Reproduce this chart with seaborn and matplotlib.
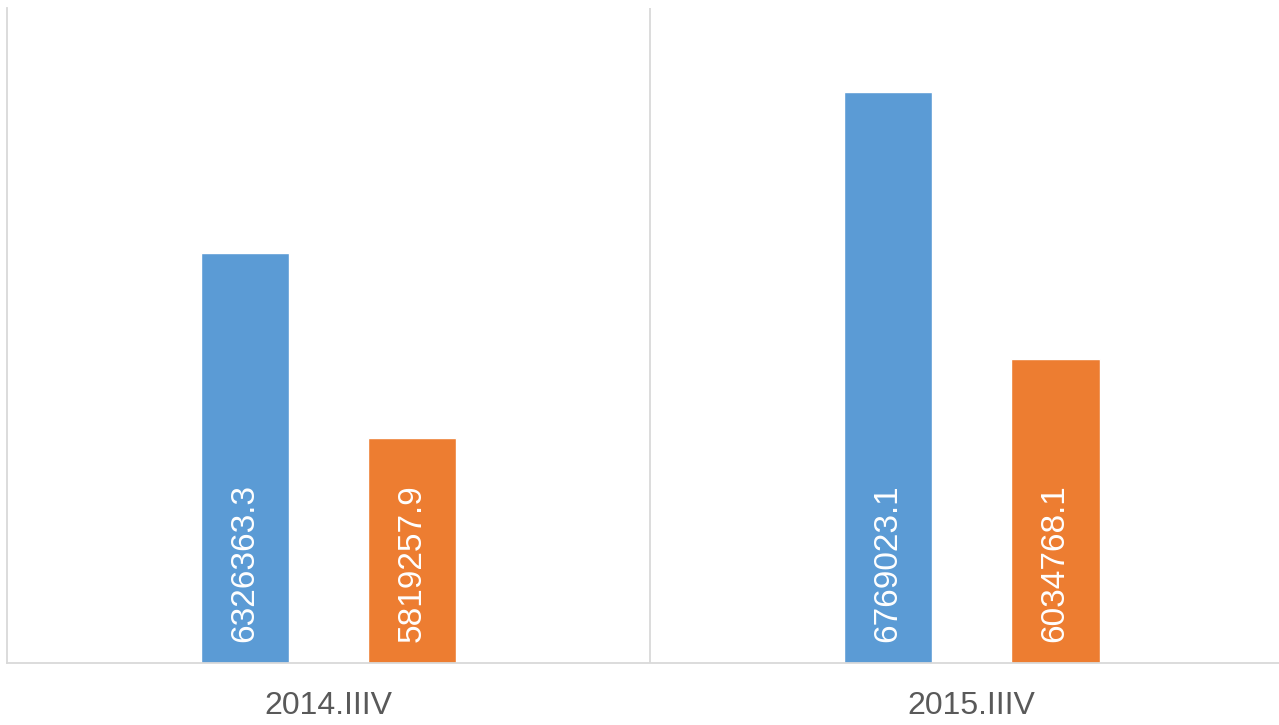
import pandas as pd
import matplotlib.pyplot as plt
import seaborn as sns

plt.switch_backend('Agg')

periods = ["2014.IIIV", "2015.IIIV"]
series_names = ["Series 1", "Series 2"]
series1 = [6326363.3, 6769023.1]
series2 = [5819257.9, 6034768.1]
colors = ["#5B9BD5", "#ED7D31"]

df = pd.DataFrame({
    "period": periods * 2,
    "series": [series_names[0]] * 2 + [series_names[1]] * 2,
    "value": series1 + series2,
})

sns.set_style("white")
plt.rcParams['font.family'] = ['Liberation Sans', 'DejaVu Sans']

fig = plt.figure(figsize=(12.79, 7.25), dpi=100)
ax = fig.add_axes([7 / 1279, 62 / 725, 1 - 7 / 1279, (663 - 8) / 725])

sns.barplot(data=df, x="period", y="value", hue="series", palette=colors,
            width=0.52, gap=0.47, legend=False, ax=ax, saturation=1)

ymin = 5.2e6
ax.set_ylim(ymin, 7.0e6)
ax.set_xlim(-0.5, 1.478)

# value labels, vertical, sitting near the base of each bar
for cont, vals in zip(ax.containers, [series1, series2]):
    for patch, v in zip(cont.patches, vals):
        xc = patch.get_x() + patch.get_width() / 2
        ax.annotate(f"{v:.1f}", (xc, ymin), xytext=(0, 15), textcoords="offset points",
                    rotation=90, ha="center", va="bottom", color="white", fontsize=24)

# category separator line
ax.axvline(0.5, color="#d9d9d9", lw=1.3)

for s in ["top", "right"]:
    ax.spines[s].set_visible(False)
ax.spines["left"].set_color("#d9d9d9")
ax.spines["bottom"].set_color("#d9d9d9")
ax.spines["left"].set_linewidth(1.3)
ax.spines["bottom"].set_linewidth(1.3)

ax.set_yticks([])
ax.set_xlabel("")
ax.set_ylabel("")
ax.tick_params(axis="x", length=0, pad=20, labelsize=23, labelcolor="#595959")

fig.savefig("out.png", dpi=100)
